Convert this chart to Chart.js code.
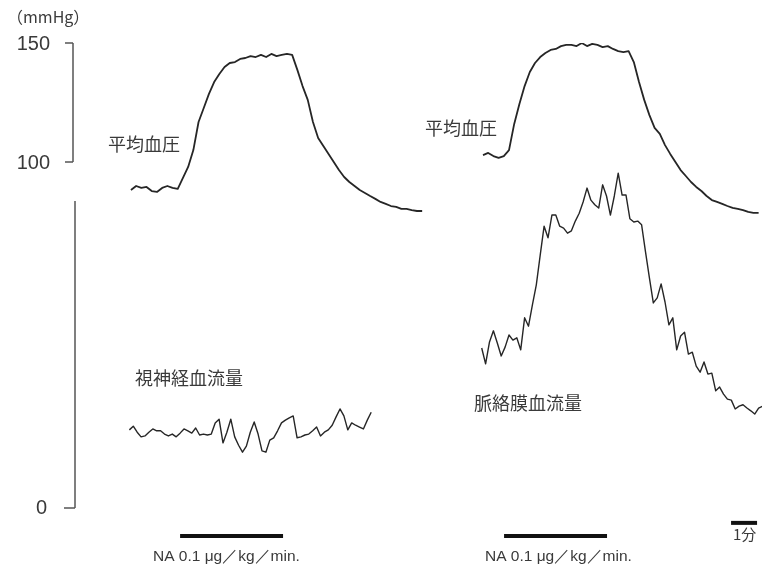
<!DOCTYPE html>
<html>
<head>
<meta charset="utf-8">
<script src="https://cdn.jsdelivr.net/npm/chart.js@4.4.0/dist/chart.umd.min.js"></script>
<style>
  body { margin: 0; background: #fff; }
  #wrap { width: 762px; height: 565px; position: relative; }
</style>
</head>
<body>
<div id="wrap"><canvas id="chart"></canvas></div>
<script>
// time axis in minutes, traces sampled at a fixed step from their start time
const bpStep = 0.2;
const flowStep = 0.15;

// left experiment: mean blood pressure (mmHg)
const bpLeftStart = 2.19;
const bpLeft = [88.2, 89.9, 89.1, 89.5, 87.8, 87.4, 89.1, 89.9, 89.1, 88.7,
  93.3, 97.9, 105.0, 116.8, 122.7, 128.6, 133.6, 137.0, 139.9, 141.6,
  142.0, 143.3, 143.7, 144.5, 144.1, 145.0, 144.1, 145.4, 144.5, 145.0,
  145.4, 145.0, 138.7, 131.9, 126.1, 116.8, 110.1, 106.7, 103.4, 100.0,
  96.6, 93.7, 91.6, 89.9, 88.2, 87.0, 85.7, 84.5, 83.2, 82.4,
  81.5, 81.1, 80.3, 80.3, 79.8, 79.4, 79.4];

// left experiment: optic nerve blood flow (arbitrary units)
const onfStart = 2.13;
const onFlow = [16.8, 17.6, 16.3, 15.3, 15.5, 16.3, 17.0, 16.6, 16.6, 15.9,
  15.5, 15.9, 15.3, 16.1, 17.0, 16.6, 16.1, 17.2, 15.7, 15.9,
  15.7, 15.9, 18.3, 19.1, 14.0, 16.3, 19.1, 15.3, 13.5, 12.0,
  13.3, 16.3, 18.5, 15.9, 12.3, 12.0, 14.6, 15.1, 16.6, 18.3,
  18.9, 19.4, 19.8, 15.1, 15.3, 15.7, 15.9, 16.6, 17.4, 15.5,
  16.3, 16.8, 17.8, 19.6, 21.3, 19.8, 16.8, 18.3, 17.8, 17.4,
  17.0, 18.9, 20.6];

// right experiment: mean blood pressure (mmHg)
const bpRightStart = 15.73;
const bpRight = [102.9, 103.8, 102.5, 101.7, 102.5, 105.0, 116.0, 124.4, 131.9, 137.8,
  141.6, 144.1, 145.8, 147.1, 147.5, 148.7, 149.2, 149.2, 148.7, 150.0,
  148.7, 149.6, 149.2, 148.3, 148.7, 147.5, 146.6, 146.2, 146.6, 142.0,
  133.6, 126.1, 119.7, 114.3, 111.8, 107.1, 103.4, 100.0, 96.6, 94.1,
  91.6, 89.5, 87.8, 85.7, 84.0, 83.2, 82.4, 81.5, 80.7, 80.3,
  79.8, 79.0, 78.6, 78.6];

// right experiment: choroidal blood flow (arbitrary units)
const chfStart = 15.68;
const chFlow = [34.4, 31.0, 35.7, 38.1, 35.5, 32.7, 34.6, 37.2, 36.1, 36.6,
  34.0, 40.9, 39.1, 43.7, 48.0, 54.4, 60.6, 58.1, 63.0, 63.0,
  60.6, 60.2, 59.1, 59.6, 61.7, 63.4, 65.8, 68.8, 66.2, 65.2,
  64.5, 69.5, 67.1, 63.0, 67.1, 72.0, 67.3, 67.3, 62.2, 61.5,
  61.7, 60.9, 55.1, 49.5, 44.1, 45.2, 48.2, 44.3, 39.4, 40.9,
  34.0, 37.0, 37.8, 33.1, 33.5, 30.5, 29.2, 31.4, 28.8, 29.0,
  25.2, 26.0, 24.5, 23.4, 23.2, 21.3, 21.9, 22.2, 21.5, 20.9,
  20.2, 21.5, 21.9];

// infusion periods and time scale bar (minutes)
const naLeft = [4.08, 8.04];
const naRight = [16.54, 20.5];
const minuteBar = [25.27, 26.27];

const bpTicks = [150, 100];
const flowTicks = [0];

function series(start, step, vals) {
  return vals.map((v, i) => ({ x: +(start + i * step).toFixed(3), y: v }));
}

function barData(range, level) {
  return [{ x: range[0], y: level }, { x: range[1], y: level }];
}

const traceStyle = {
  borderColor: '#262626',
  pointRadius: 0,
  tension: 0,
  borderJoinStyle: 'round',
  fill: false
};

// axis segments, tick labels and text labels
const decorations = {
  id: 'decorations',
  afterDraw(chart) {
    const ctx = chart.ctx;
    const bp = chart.scales.yBP;
    const fl = chart.scales.yFlow;
    ctx.save();
    ctx.strokeStyle = '#555';
    ctx.lineWidth = 1.5;

    // pressure axis 150 - 100
    ctx.beginPath();
    ctx.moveTo(73, bp.getPixelForValue(bpTicks[0]));
    ctx.lineTo(73, bp.getPixelForValue(bpTicks[1]));
    bpTicks.forEach(t => {
      const y = bp.getPixelForValue(t);
      ctx.moveTo(65, y);
      ctx.lineTo(73, y);
    });
    ctx.stroke();

    // flow axis from 0 upwards
    ctx.beginPath();
    ctx.moveTo(75, fl.getPixelForValue(0));
    ctx.lineTo(75, fl.getPixelForValue(66));
    flowTicks.forEach(t => {
      const y = fl.getPixelForValue(t);
      ctx.moveTo(64, y);
      ctx.lineTo(75, y);
    });
    ctx.stroke();

    ctx.fillStyle = '#3a3a3a';
    ctx.textBaseline = 'middle';
    ctx.textAlign = 'right';
    ctx.font = '20px "Liberation Sans", Arial, sans-serif';
    bpTicks.forEach(t => ctx.fillText(String(t), 50, bp.getPixelForValue(t) + 1));
    flowTicks.forEach(t => ctx.fillText(String(t), 47, fl.getPixelForValue(t)));

    ctx.textAlign = 'left';
    ctx.font = '16px "Noto Sans CJK JP", sans-serif';
    ctx.fillText('（mmHg）', 7, 17);

    ctx.font = '18px "Noto Sans CJK JP", sans-serif';
    ctx.fillText('平均血圧', 108, 144);
    ctx.fillText('平均血圧', 425, 128);
    ctx.fillText('視神経血流量', 135, 378);
    ctx.fillText('脈絡膜血流量', 474, 403);

    ctx.font = '15.5px "Liberation Sans", Arial, sans-serif';
    ctx.fillText('NA 0.1 μg／kg／min.', 153, 557);
    ctx.fillText('NA 0.1 μg／kg／min.', 485, 557);
    ctx.font = '15px "Noto Sans CJK JP", sans-serif';
    ctx.fillText('1分', 733, 534);
    ctx.restore();
  }
};

const barStyle = { yAxisID: 'yFlow', borderWidth: 4, borderColor: '#111', borderCapStyle: 'butt', clip: false };

const ctx = document.getElementById('chart').getContext('2d');
new Chart(ctx, {
  type: 'line',
  data: {
    datasets: [
      { ...traceStyle, label: '平均血圧 L', data: series(bpLeftStart, bpStep, bpLeft), yAxisID: 'yBP', borderWidth: 1.8 },
      { ...traceStyle, label: '視神経血流量', data: series(onfStart, flowStep, onFlow), yAxisID: 'yFlow', borderWidth: 1.4 },
      { ...traceStyle, label: '平均血圧 R', data: series(bpRightStart, bpStep, bpRight), yAxisID: 'yBP', borderWidth: 1.8 },
      { ...traceStyle, label: '脈絡膜血流量', data: series(chfStart, flowStep, chFlow), yAxisID: 'yFlow', borderWidth: 1.4 },
      { ...traceStyle, ...barStyle, label: 'NA L', data: barData(naLeft, -6) },
      { ...traceStyle, ...barStyle, label: 'NA R', data: barData(naRight, -6) },
      { ...traceStyle, ...barStyle, label: '1分', data: barData(minuteBar, -3.2) }
    ]
  },
  options: {
    responsive: true,
    maintainAspectRatio: false,
    animation: false,
    layout: { padding: { left: 74, top: 43, right: 0, bottom: 57 } },
    scales: {
      x: { type: 'linear', min: 0, max: 26.46, display: false },
      yBP: { type: 'linear', min: -45.4, max: 150, display: false },
      yFlow: { type: 'linear', min: 0, max: 100, display: false }
    },
    plugins: {
      legend: { display: false },
      tooltip: { enabled: false }
    }
  },
  plugins: [decorations]
});
</script>
</body>
</html>
